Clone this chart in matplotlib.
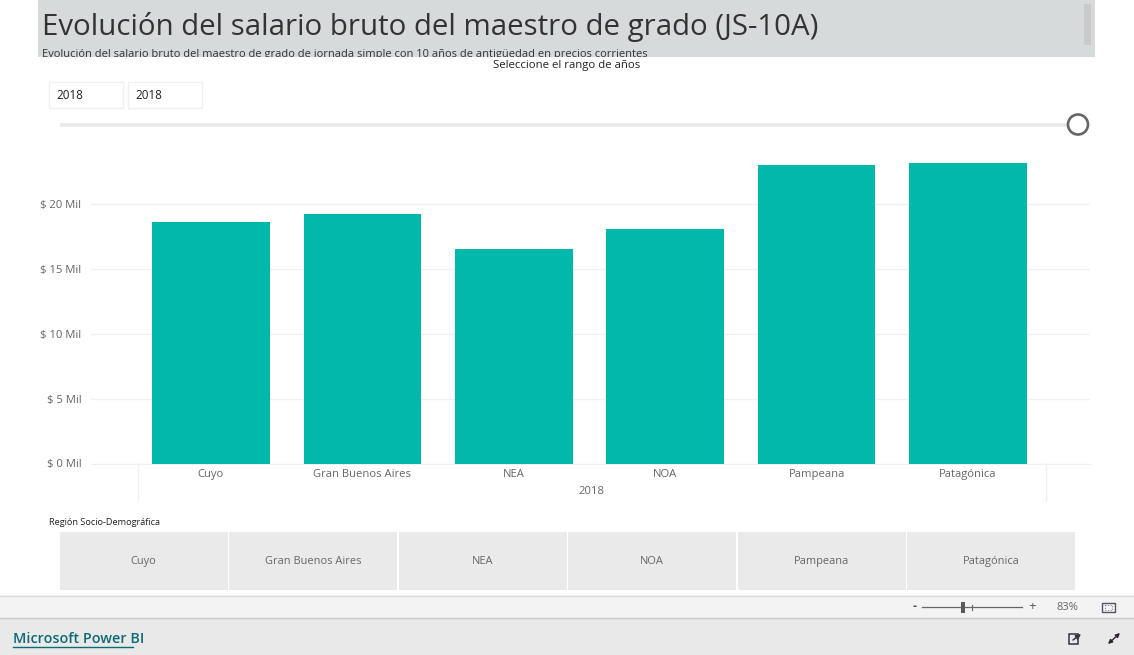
import matplotlib
matplotlib.use("Agg")
import matplotlib.pyplot as plt
from matplotlib.patches import Rectangle, Circle, FancyArrowPatch
from matplotlib.ticker import FuncFormatter

plt.rcParams['font.family'] = ['Open Sans', 'Noto Sans', 'DejaVu Sans']

regions = ["Cuyo", "Gran Buenos Aires", "NEA", "NOA", "Pampeana", "Patagónica"]
salaries = [18650, 19270, 16560, 18110, 23050, 23170]
y_ticks = [0, 5000, 10000, 15000, 20000]
year_label = "2018"
title = "Evolución del salario bruto del maestro de grado (JS-10A)"
subtitle = "Evolución del salario bruto del maestro de grado de jornada simple con 10 años de antigüedad en precios corrientes"

W, H = 1134, 655
BAR = "#01B8AA"
TXT = "#666666"
GRID = "#F0F0F0"

fig = plt.figure(figsize=(W / 100, H / 100), dpi=100, facecolor="white")

# page chrome, in pixel coordinates
bg = fig.add_axes([0, 0, 1, 1], zorder=0)
bg.set_xlim(0, W)
bg.set_ylim(H, 0)
bg.axis("off")

def rect(x, y, w, h, fc, ec="none", lw=0, z=1):
    p = Rectangle((x, y), w, h, fc=fc, ec=ec, lw=lw, zorder=z)
    bg.add_patch(p)
    return p

head = rect(38, 0, 1057, 57, "#D6DADB")
rect(1084, 4, 7, 41, "#C8CACB", z=2)
bg.text(42, 27, title, fontsize=21.2, color="#333333", va="center", ha="left", zorder=3)
t = bg.text(42, 55, subtitle, fontsize=8.05, color="#333333", va="center", ha="left", zorder=3)
t.set_clip_path(head)
t.set_clip_on(True)

bg.text(567, 65.5, "Seleccione el rango de años", fontsize=8.2, color="#222222", ha="center", va="center")
for x in (49, 128):
    rect(x, 82, 74, 25.5, "white", ec="#F0F0F0", lw=1)
    bg.text(x + 7, 95.5, year_label, fontsize=8.4, color="#222222", ha="left", va="center")

bg.plot([60, 1068], [124.5, 124.5], color="#E8E8E8", lw=2.6, solid_capstyle="butt", zorder=1)
bg.add_patch(Circle((1078, 124.5), 10, fc="white", ec="#666666", lw=1.9, zorder=2))

# axis category frame lines
for x in (137.5, 1045.5):
    bg.plot([x, x], [464, 500], color=GRID, lw=1, zorder=1)

bg.text(49, 522.5, "Región Socio-Demográfica", fontsize=6.6, color="#222222", ha="left", va="center")
slicer_x = [59.5, 229, 398.5, 568, 737.5, 907]
for x, name in zip(slicer_x, regions):
    rect(x, 532, 168, 57.5, "#EAEAEA")
    bg.text(x + 84, 561.5, name, fontsize=7.9, color=TXT, ha="center", va="center")

# bottom bars
rect(0, 595, W, 23, "#F3F3F3")
bg.plot([0, W], [595.5, 595.5], color="#DADADA", lw=1, zorder=2)
rect(0, 618, W, 37, "#E9E9E9")
bg.plot([0, W], [618, 618], color="#C8C8C8", lw=1, zorder=2)

bg.text(13, 639, "Microsoft Power BI", fontsize=10.4, color="#0B6A75", ha="left", va="center", fontweight="semibold")
bg.plot([13, 133], [646.5, 646.5], color="#0B6A75", lw=1, zorder=3)

# zoom control
bg.text(915, 606.5, "-", fontsize=9, color="#555555", ha="center", va="center", fontweight="bold")
bg.plot([922, 1022], [607, 607], color="#666666", lw=0.9, zorder=3)
bg.plot([972, 972], [604.5, 609.5], color="#666666", lw=0.8, zorder=3)
rect(961, 602, 4, 11, "#5A5A5A", z=4)
bg.text(1032, 606.5, "+", fontsize=9.5, color="#555555", ha="center", va="center")
bg.text(1067, 607, "83%", fontsize=8, color=TXT, ha="center", va="center")
bg.add_patch(Rectangle((1101.5, 602.5), 13, 9, fc="none", ec="#555566", lw=1, zorder=3))
bg.add_patch(Rectangle((1104.5, 604.5), 7, 5, fc="none", ec="#777788", lw=0.7, ls=":", zorder=3))

# share and expand icons
bg.add_patch(Rectangle((1069, 634), 9, 9.5, fc="none", ec="#333344", lw=1.1, zorder=3))
bg.add_patch(FancyArrowPatch((1073, 640), (1081, 634), arrowstyle="-|>", mutation_scale=7,
                             color="#333344", lw=1.1, zorder=4, shrinkA=0, shrinkB=0))
bg.add_patch(FancyArrowPatch((1108, 644), (1120, 633), arrowstyle="<|-|>", mutation_scale=6,
                             color="#332233", lw=1, zorder=3, shrinkA=0, shrinkB=0))

# chart
left, right, top, bottom = 91, 1090, 140, 463.5
ax = fig.add_axes([left / W, 1 - bottom / H, (right - left) / W, (bottom - top) / H], zorder=2)
ax.patch.set_alpha(0)
step = 151.4
first_center = 211
ax.set_xlim((left - first_center) / step, (right - first_center) / step)
per_px = 20000 / 259
ax.set_ylim(0, (bottom - top) * per_px)
ax.bar(range(len(regions)), salaries, width=0.776, color=BAR, zorder=3)
ax.set_yticks(y_ticks)
ax.yaxis.set_major_formatter(FuncFormatter(lambda v, _: f"$ {int(v / 1000)} Mil"))
ax.set_xticks(range(len(regions)))
ax.set_xticklabels(regions)
ax.grid(axis="y", color=GRID, lw=1, zorder=0)
ax.tick_params(axis="both", length=0, labelcolor=TXT, labelsize=8.1)
ax.tick_params(axis="x", pad=4)
ax.tick_params(axis="y", pad=7)
for s in ("top", "right", "left"):
    ax.spines[s].set_visible(False)
ax.spines["bottom"].set_color(GRID)
ax.set_xlabel(year_label, fontsize=8.1, color=TXT, labelpad=2)
ax.xaxis.set_label_coords((591 - left) / (right - left), -(491 - bottom) / (bottom - top), transform=ax.transAxes)
ax.xaxis.label.set_verticalalignment("center")

fig.savefig("out.png", dpi=100)
